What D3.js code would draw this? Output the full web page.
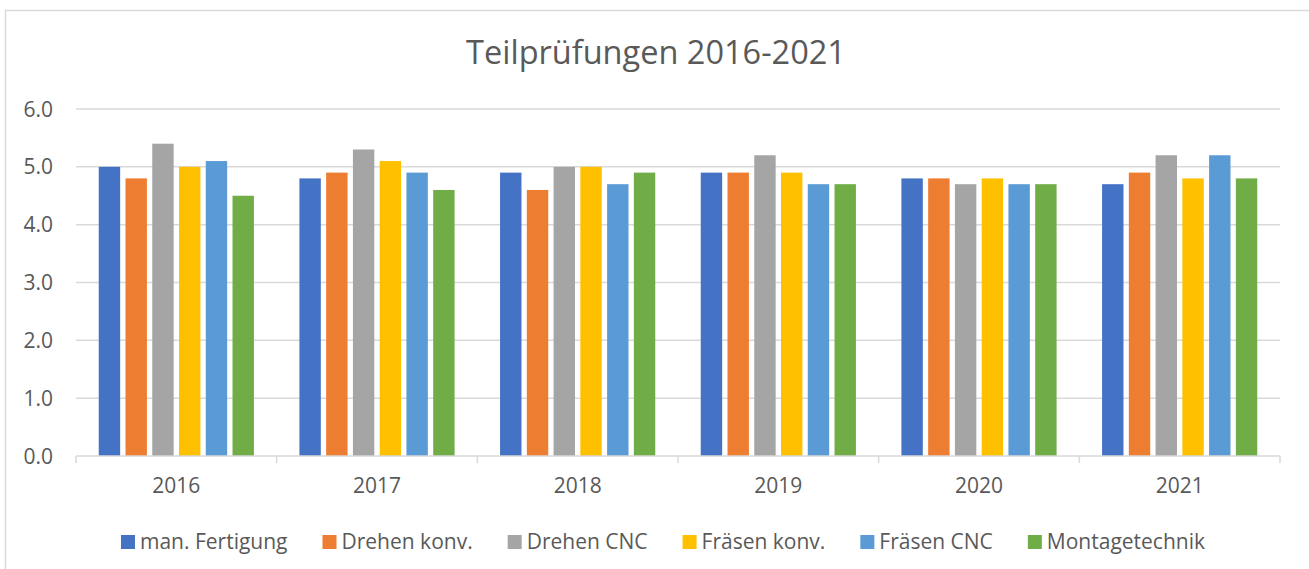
<!DOCTYPE html>
<html>
<head>
<meta charset="utf-8">
<script src="https://cdn.jsdelivr.net/npm/d3@7"></script>
<style>
  body { margin: 0; background: #fff; }
  svg text { font-family: "Open Sans", "Noto Sans", sans-serif; fill: #595959; }
</style>
</head>
<body>
<div id="chart"></div>
<script>
// data
const years = ["2016", "2017", "2018", "2019", "2020", "2021"];
const seriesNames = ["man. Fertigung", "Drehen konv.", "Drehen CNC", "Fräsen konv.", "Fräsen CNC", "Montagetechnik"];
const manFertigung = [5.0, 4.8, 4.9, 4.9, 4.8, 4.7];
const drehenKonv = [4.8, 4.9, 4.6, 4.9, 4.8, 4.9];
const drehenCnc = [5.4, 5.3, 5.0, 5.2, 4.7, 5.2];
const fraesenKonv = [5.0, 5.1, 5.0, 4.9, 4.8, 4.8];
const fraesenCnc = [5.1, 4.9, 4.7, 4.7, 4.7, 5.2];
const montagetechnik = [4.5, 4.6, 4.9, 4.7, 4.7, 4.8];
const yTicks = [0, 1, 2, 3, 4, 5, 6];

const seriesValues = [manFertigung, drehenKonv, drehenCnc, fraesenKonv, fraesenCnc, montagetechnik];
const colors = ["#4472C4", "#ED7D31", "#A5A5A5", "#FFC000", "#5B9BD5", "#70AD47"];

const width = 1309, height = 569;
const plot = { left: 76, right: 1280, top: 109, bottom: 456 };

const svg = d3.select("#chart").append("svg")
  .attr("width", width)
  .attr("height", height);

// chart frame
svg.append("rect")
  .attr("x", 5.5).attr("y", 10.5)
  .attr("width", 1340).attr("height", 600)
  .attr("fill", "#fff")
  .attr("stroke", "#d9d9d9")
  .attr("stroke-width", 1.5);

// title
svg.append("text")
  .attr("x", 656)
  .attr("y", 64)
  .attr("text-anchor", "middle")
  .style("font-size", "32.5px")
  .text("Teilprüfungen 2016-2021");

const x0 = d3.scaleBand()
  .domain(years)
  .range([plot.left, plot.right]);

const groupWidth = x0.bandwidth() * 0.8;
const x1 = d3.scaleBand()
  .domain(d3.range(seriesNames.length))
  .range([0, groupWidth])
  .paddingInner(0.2)
  .paddingOuter(0.1);

const y = d3.scaleLinear()
  .domain([0, 6])
  .range([plot.bottom, plot.top]);

// gridlines
svg.append("g")
  .selectAll("line")
  .data(yTicks.filter(d => d > 0))
  .join("line")
  .attr("x1", plot.left).attr("x2", plot.right)
  .attr("y1", d => y(d)).attr("y2", d => y(d))
  .attr("stroke", "#d9d9d9")
  .attr("stroke-width", 1.5);

// y labels
svg.append("g")
  .selectAll("text")
  .data(yTicks)
  .join("text")
  .attr("x", 53)
  .attr("y", d => y(d))
  .attr("dy", "0.36em")
  .attr("text-anchor", "end")
  .style("font-size", "21px")
  .text(d => d.toFixed(1));

// bars
const groups = svg.append("g")
  .selectAll("g")
  .data(years)
  .join("g")
  .attr("transform", d => `translate(${x0(d) + (x0.bandwidth() - groupWidth) / 2},0)`);

groups.selectAll("rect")
  .data((d, i) => seriesValues.map((vals, s) => ({ s, v: vals[i] })))
  .join("rect")
  .attr("x", d => x1(d.s))
  .attr("width", x1.bandwidth())
  .attr("y", d => y(d.v))
  .attr("height", d => y(0) - y(d.v))
  .attr("fill", d => colors[d.s]);

// x axis
const xAxis = svg.append("g")
  .attr("transform", `translate(0,${plot.bottom})`);

xAxis.append("line")
  .attr("x1", plot.left).attr("x2", plot.right)
  .attr("stroke", "#d9d9d9")
  .attr("stroke-width", 1.5);

const bounds = years.map(d => x0(d)).concat([plot.right]);
xAxis.selectAll(".tick")
  .data(bounds)
  .join("line")
  .attr("class", "tick")
  .attr("x1", d => d).attr("x2", d => d)
  .attr("y1", 0).attr("y2", 7)
  .attr("stroke", "#d9d9d9")
  .attr("stroke-width", 1.5);

xAxis.selectAll(".lbl")
  .data(years)
  .join("text")
  .attr("class", "lbl")
  .attr("x", d => x0(d) + x0.bandwidth() / 2)
  .attr("y", 37)
  .attr("text-anchor", "middle")
  .style("font-size", "21px")
  .text(d => d);

// legend
const legend = svg.append("g");
const items = legend.selectAll("g")
  .data(seriesNames)
  .join("g");

items.append("rect")
  .attr("width", 14).attr("height", 14)
  .attr("y", -14)
  .attr("fill", (d, i) => colors[i]);

items.append("text")
  .attr("x", 19)
  .attr("y", 0)
  .style("font-size", "21px")
  .text(d => d);

let offset = 0;
items.each(function () {
  const w = this.getBBox().width;
  d3.select(this).attr("transform", `translate(${offset},0)`);
  offset += w + 35;
});
const legendWidth = offset - 35;
legend.attr("transform", `translate(${663 - legendWidth / 2},549)`);
</script>
</body>
</html>
